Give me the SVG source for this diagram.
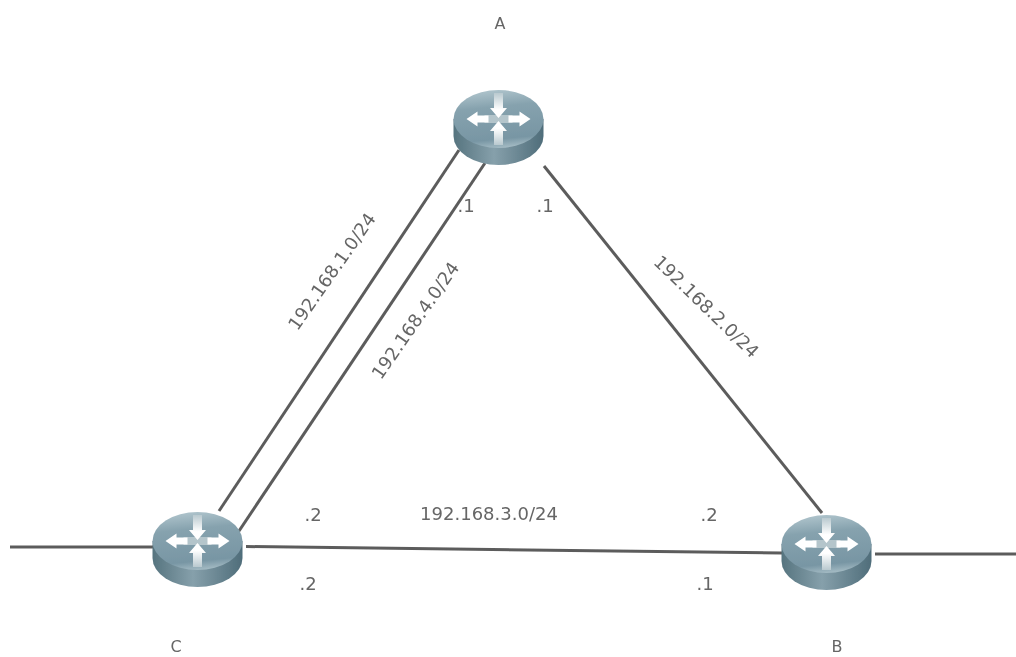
<svg xmlns="http://www.w3.org/2000/svg" width="1016" height="657" viewBox="0 0 1016 657">
<style>
text{font-family:"DejaVu Sans",Verdana,sans-serif;font-size:18px;fill:#666}
.n{font-size:16px}
.l{stroke:#5c5c5c;stroke-width:3;fill:none}
.a{fill:#fff}
</style>
<defs>
<linearGradient id="top" x1="0.35" y1="0" x2="0.5" y2="1"><stop offset="0" stop-color="#afc4cc"/><stop offset=".3" stop-color="#86a2ae"/><stop offset=".85" stop-color="#7896a4"/><stop offset="1" stop-color="#a3bac3"/></linearGradient>
<linearGradient id="side" x1="0" y1="0" x2="1" y2="0"><stop offset="0" stop-color="#56747f"/><stop offset=".45" stop-color="#86a0ab"/><stop offset="1" stop-color="#4f6d7a"/></linearGradient>
<linearGradient id="vs" x1="0" y1="0" x2="0" y2="1"><stop offset="0" stop-color="#b9c9cf"/><stop offset=".32" stop-color="#fff"/><stop offset=".68" stop-color="#fff"/><stop offset="1" stop-color="#b9c9cf"/></linearGradient>
<filter id="b" x="-10%" y="-10%" width="120%" height="120%"><feGaussianBlur stdDeviation=".6"/></filter>
<filter id="t" x="-5%" y="-5%" width="110%" height="110%"><feGaussianBlur stdDeviation=".45"/></filter>
<g id="router" filter="url(#b)">
<path d="M-45,0V17A45,29 0 0 0 45,17V0Z" fill="url(#side)"/>
<ellipse cx="0" cy="0" rx="45" ry="29" fill="url(#top)"/>
<path d="M-14,-4H14V4H-14Z" fill="#b4c5cb"/>
<path d="M-4.500,-26H4.500V-11H8.500L0,-1 -8.500,-11H-4.500ZM-4.500,26H4.500V12H8.500L0,2 -8.500,12H-4.500Z" fill="url(#vs)"/>
<path class="a" d="M-32,0L-21,-7.500V-3.500H-10V3.500H-21V7.500ZM32,0L21,-7.500V-3.500H10V3.500H21V7.500Z"/>
</g>
</defs>
<g id="connectors" filter="url(#t)">
<path class="l" d="M459,150L219,511"/>
<path class="l" d="M485,163L237,534"/>
<path class="l" d="M544,166L822,513"/>
<path class="l" d="M246,546.500L782,553"/>
<path class="l" d="M10,547H153"/>
<path class="l" d="M875,554H1016"/>
</g>
<g id="node-a"><use href="#router" x="498.500" y="119"/><text class="n" x="500" y="29" text-anchor="middle" filter="url(#t)">A</text></g>
<g id="node-b"><use href="#router" x="826.500" y="544"/><text class="n" x="837" y="652" text-anchor="middle" filter="url(#t)">B</text></g>
<g id="node-c"><use href="#router" x="197.500" y="541"/><text class="n" x="176" y="652" text-anchor="middle" filter="url(#t)">C</text></g>
<g id="labels" filter="url(#t)">
<text x="466" y="212" text-anchor="middle">.1</text>
<text x="545" y="212" text-anchor="middle">.1</text>
<text x="313" y="521" text-anchor="middle">.2</text>
<text x="709" y="521" text-anchor="middle">.2</text>
<text x="308" y="590" text-anchor="middle">.2</text>
<text x="705" y="590" text-anchor="middle">.1</text>
<text x="489" y="520" text-anchor="middle">192.168.3.0/24</text>
<text transform="translate(337,275) rotate(-55)" text-anchor="middle">192.168.1.0/24</text>
<text transform="translate(420.500,324) rotate(-55)" text-anchor="middle">192.168.4.0/24</text>
<text transform="translate(702,311) rotate(44)" text-anchor="middle">192.168.2.0/24</text>
</g>
</svg>
